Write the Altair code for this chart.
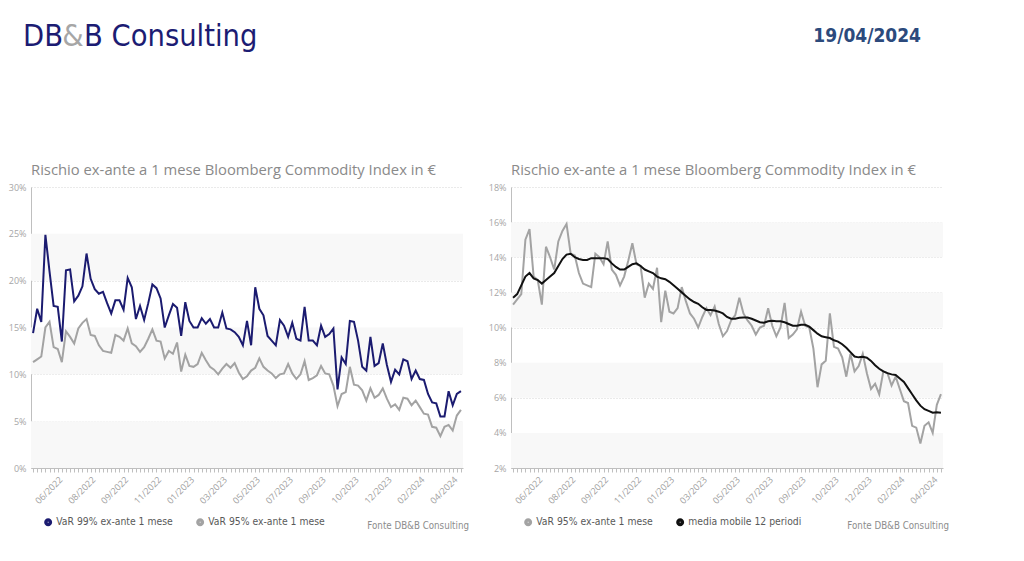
import altair as alt
import pandas as pd

# ---------------- data ----------------
tick_labels = ["06/2022", "08/2022", "09/2022", "11/2022", "01/2023", "03/2023", "05/2023",
               "07/2023", "09/2023", "10/2023", "12/2023", "02/2024", "04/2024"]

var99 = [14.4, 17.0, 15.6, 24.9, 21.0, 17.3, 17.2, 13.5, 21.1, 21.2,
         17.8, 18.4, 19.4, 22.9, 20.2, 19.1, 18.6, 18.8, 17.6, 16.5,
         17.9, 17.9, 16.9, 20.3, 19.3, 15.9, 17.3, 15.8, 17.6, 19.6,
         19.2, 18.1, 15.0, 16.3, 17.5, 17.1, 14.1,
         17.7, 15.7, 15.0, 15.0, 16.0, 15.4, 15.9, 15.0, 15.0, 16.6,
         14.9, 14.8, 14.5, 14.0, 13.1, 15.7,
         13.1, 19.3, 17.0, 16.3, 14.1, 13.6, 13.1, 15.8, 15.2, 14.0,
         15.5, 13.8, 13.6, 17.2, 13.6, 13.6, 13.1, 15.2, 14.0, 14.3,
         14.9, 8.4, 11.8, 11.1, 15.7, 15.6, 13.6, 10.8, 10.4, 14.0,
         10.9, 11.2, 13.3, 11.0, 9.2, 10.5, 10.0, 11.6, 11.4, 9.5,
         10.4, 9.5, 9.4, 7.9, 7.0, 6.9, 5.5, 5.5, 8.2, 6.7, 7.9, 8.2]

var95 = [11.3, 11.6, 11.9, 15.0, 15.6, 12.9, 12.7, 11.3, 14.6, 14.0,
         13.3, 14.9, 15.5, 15.9, 14.2, 14.1, 13.1, 12.5, 12.4, 12.3,
         14.2, 14.0, 13.6, 14.9, 13.3, 13.0, 12.4, 12.9, 13.8, 14.8,
         13.6, 13.5, 11.7, 12.5, 12.2, 13.4, 10.3,
         12.1, 10.9, 10.8, 11.1, 12.3, 11.5, 10.8, 10.5, 10.0, 10.6,
         11.1, 10.7, 11.2, 10.2, 9.5, 9.8,
         10.4, 10.7, 11.7, 10.8, 10.4, 10.1, 9.6, 10.0, 10.1, 11.1,
         10.1, 9.5, 10.0, 11.4, 9.4, 9.6, 9.9, 10.9, 10.1, 10.0,
         8.8, 6.6, 7.9, 8.1, 10.8, 8.9, 8.8, 8.3, 7.2, 8.5,
         7.5, 7.8, 8.5, 7.4, 6.5, 6.8, 6.2, 7.5, 7.4, 6.7,
         7.2, 6.5, 5.8, 5.7, 4.4, 4.3, 3.4, 4.4, 4.6, 4.0, 5.6, 6.2]

ma12 = [11.7, 11.9, 12.4, 12.9, 13.1, 12.8, 12.7, 12.5, 12.7, 12.9,
        13.1, 13.5, 13.9, 14.15, 14.2, 14.0, 13.9, 13.85, 13.85, 13.95,
        13.95, 13.95, 13.95, 13.9, 13.65, 13.45, 13.3, 13.3, 13.45, 13.6,
        13.65, 13.5, 13.3, 13.2, 13.1, 12.9, 12.8, 12.75, 12.6, 12.4,
        12.2, 12.0, 11.8, 11.6, 11.45, 11.35, 11.15, 11.0, 11.0, 10.97,
        10.9, 10.8, 10.6, 10.5, 10.5, 10.55, 10.57, 10.57, 10.5, 10.4,
        10.3, 10.27, 10.35, 10.38, 10.36, 10.36, 10.3, 10.2, 10.1, 10.1,
        10.15, 10.15, 10.05, 9.85, 9.65, 9.5, 9.45, 9.4, 9.27, 9.2,
        9.05, 8.85, 8.6, 8.35, 8.3, 8.33, 8.28, 8.1, 7.85, 7.65,
        7.5, 7.4, 7.33, 7.3, 7.1, 6.9, 6.55, 6.2, 5.85, 5.55,
        5.35, 5.25, 5.15, 5.18, 5.15]

left_ticks = [0, 5, 10, 15, 20, 25, 30]
right_ticks = [2, 4, 6, 8, 10, 12, 14, 16, 18]
left_band_lo = [0, 10, 20]
left_band_hi = [5, 15, 25]
right_band_lo = [2, 6, 10, 14]
right_band_hi = [4, 8, 12, 16]
first_label_idx = 6
label_step = 8

S99 = "VaR 99% ex-ante 1 mese"
S95 = "VaR 95% ex-ante 1 mese"
SMA = "media mobile 12 periodi"

n = len(var95)
idx = list(range(n))

NAVY = "#1b1b70"
GREYLINE = "#a3a3a3"
BLACK = "#111111"
AXGREY = "#bfbfbf"
TXTGREY = "#8c8c8c"
CFONT = "DejaVu Sans Condensed, DejaVu Sans"

lbl_arr = "[" + ",".join("'" + t + "'" for t in tick_labels) + "]"
label_expr = (f"(datum.value >= {first_label_idx} && (datum.value - {first_label_idx}) % {label_step} == 0)"
              f" ? {lbl_arr}[(datum.value - {first_label_idx}) / {label_step}] : ''")

TITLE = "Rischio ex-ante a 1 mese Bloomberg Commodity Index in €"
PW, PH = 432, 281


def panel(series, values, colors, ydom, yticks, band_lo, band_hi, legend_x, front):
    rows = []
    for s, vals in zip(series, values):
        for i, v in zip(idx, vals):
            rows.append({"i": i, "s": s, "v": v})
    df = pd.DataFrame(rows)
    yscale = alt.Scale(domain=ydom, nice=False, zero=False)
    yaxis = alt.Axis(values=yticks, labelExpr="datum.value + '%'", title=None, ticks=False,
                     labelFontSize=9, labelColor="#a6a6a6", labelFont="Open Sans",
                     domainColor=AXGREY, gridColor="#d4d4d4", gridDash=[1, 2],
                     labelPadding=5, minExtent=23, maxExtent=23)
    xaxis = alt.Axis(title=None, labelAngle=-45, labelFontSize=9, labelColor="#a0a0a0",
                     labelFont="Open Sans", tickSize=4, tickColor=AXGREY, domainColor=AXGREY,
                     grid=False, labelOverlap=False, labelPadding=3, labelExpr=label_expr)
    xenc = alt.X("i:O", scale=alt.Scale(type="point", padding=0.5), axis=xaxis)
    yenc = alt.Y("v:Q", scale=yscale, axis=yaxis)
    color = alt.Color("s:N", scale=alt.Scale(domain=series, range=colors),
                      legend=alt.Legend(orient="none", legendX=legend_x, legendY=330,
                                        direction="horizontal", title=None, symbolType="circle",
                                        symbolSize=12, symbolStrokeWidth=4.5, labelFontSize=10.3,
                                        labelColor="#595959", labelFont=CFONT, labelOffset=3,
                                        columnPadding=16, padding=0, symbolOffset=0))

    bands = alt.Chart(pd.DataFrame({"lo": band_lo, "hi": band_hi})).mark_rect(
        color="#f8f8f8").encode(y=alt.Y("lo:Q", scale=yscale, axis=yaxis), y2="hi:Q")
    back_name = [s for s in series if s != front][0]
    line_back = alt.Chart(df).transform_filter(alt.datum.s == back_name).mark_line(
        strokeWidth=2).encode(x=xenc, y=yenc, color=color)
    line_front = alt.Chart(df).transform_filter(alt.datum.s == front).mark_line(
        strokeWidth=2).encode(x=xenc, y=yenc, color=color)
    fonte = alt.Chart(pd.DataFrame({"t": ["Fonte DB&B Consulting"]})).mark_text(
        align="right", baseline="alphabetic", fontSize=9.7, color=TXTGREY, font=CFONT).encode(
        text="t:N", x=alt.value(PW + 6), y=alt.value(342))
    return alt.layer(bands, line_back, line_front, fonte).properties(
        width=PW, height=PH,
        title=alt.TitleParams(TITLE, anchor="start", frame="group", fontSize=14.8, font="Open Sans",
                              fontWeight="normal", color="#8a8a8a", baseline="alphabetic",
                              offset=12, dy=19))


left = panel([S99, S95], [var99, var95], [NAVY, GREYLINE], [0, 30], left_ticks,
             left_band_lo, left_band_hi, 12, S99)
right = panel([S95, SMA], [var95, ma12], [GREYLINE, BLACK], [2, 18], right_ticks,
              right_band_lo, right_band_hi, 12, SMA)

hdr = alt.Chart(pd.DataFrame({"a": [0]}))
NAVYH = "#1c1c73"
HSIZE = 30.5
h1 = hdr.mark_text(text="DB", font=CFONT, fontSize=HSIZE, color=NAVYH,
                   align="left", baseline="alphabetic").encode(x=alt.value(-8), y=alt.value(38))
h2 = hdr.mark_text(text="&", font=CFONT, fontSize=HSIZE, color="#a6a6a6",
                   align="center", baseline="alphabetic").encode(x=alt.value(42), y=alt.value(38))
h3 = hdr.mark_text(text="B Consulting", font=CFONT, fontSize=HSIZE, color=NAVYH,
                   align="left", baseline="alphabetic").encode(x=alt.value(53), y=alt.value(38))
h4 = hdr.mark_text(text="19/04/2024", font=CFONT, fontSize=19, fontWeight="bold", color="#2c4a7c",
                   align="right", baseline="alphabetic").encode(x=alt.value(890), y=alt.value(34))
header = alt.layer(h1, h2, h3, h4).properties(width=900, height=150)

row = alt.hconcat(left, right, spacing=48, bounds="flush").resolve_scale(color="independent")
chart = alt.vconcat(header, row, spacing=29, bounds="flush").properties(
    padding=0, background="white").configure_view(strokeWidth=0)

chart.save("out.html", embed_options={"renderer": "svg", "actions": False})
